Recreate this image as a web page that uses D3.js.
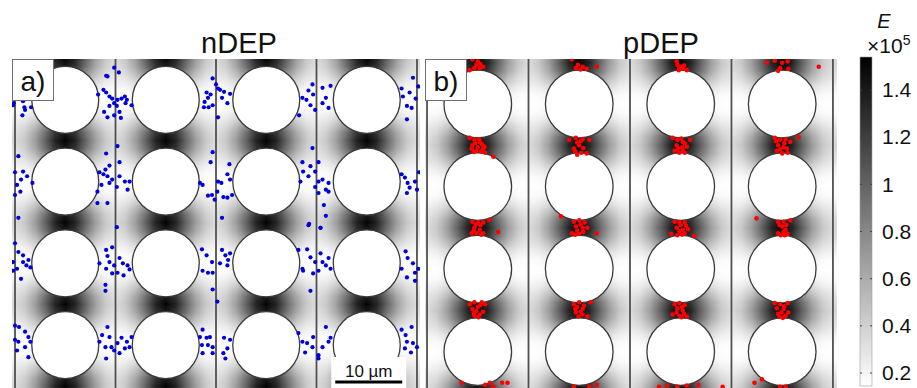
<!DOCTYPE html>
<html>
<head>
<meta charset="utf-8">
<script src="https://cdn.jsdelivr.net/npm/d3@7"></script>
<style>
  html, body { margin: 0; padding: 0; background: #fff; }
  svg { display: block; }
  text { font-family: "Liberation Sans", Arial, Helvetica, sans-serif; fill: #111; }
</style>
</head>
<body>
<svg id="chart" width="917" height="388"></svg>
<script>
// ---- Channel geometry (µm) ----
const channelWalls   = [0, 15, 30, 45, 60];
const pillarColumns  = [7.5, 22.5, 37.5, 52.5];
const pillarRadius   = 5;
const rowPitch       = 12.2;
const nDepRows       = [6.1, 18.3, 30.5, 42.7];
const pDepRows       = [6.65, 18.85, 31.05, 43.25];

// ---- Field magnitude E (×10^5) over one cell ----
// columns: distance from the pillar axis; rows: distance from the gap centre line
const fieldDx = [0, 1.5, 3, 4.5, 6, 7.5];
const fieldDy = [0, 1.2, 2.4, 3.6, 4.8, 6.1];
const fieldE = [
  [1.52, 1.35, 1.00, 0.68, 0.45, 0.34],
  [1.40, 1.25, 0.92, 0.62, 0.41, 0.31],
  [1.15, 1.00, 0.72, 0.48, 0.33, 0.27],
  [0.85, 0.72, 0.50, 0.33, 0.24, 0.21],
  [0.60, 0.48, 0.32, 0.22, 0.17, 0.16],
  [0.45, 0.35, 0.22, 0.16, 0.15, 0.145]
];

// ---- Colour bar ----
const colorDomain = [0.145, 1.54];
const colorTicks  = [0.2, 0.4, 0.6, 0.8, 1, 1.2, 1.4];

// ---- Labels ----
const panelTitles = ["nDEP", "pDEP"];
const panelTags   = ["a)", "b)"];
const scaleBarLength = 10;          // µm
const scaleBarStart  = [47.8, 48.2]; // µm, in panel a

// ---- nDEP particles: [wall index, pillar row, dx µm, dy µm offsets] ----
const nDepParticles = [
  [0, 0, [[-0.3,0.8],[-0.2,0.5],[1.2,0.2],[1.4,1.1],[1.1,2.3],[1.5,1.5],[2.4,1.1]]],
  [1, 0, [[-0.2,-4.8],[0.5,-4.1],[-1.4,-3.6],[-1.2,-3.5],[-1.8,-1.5],[-1.4,-1.1],[-2.6,-0.8],[-0.9,-0.5],[-0.5,-0.2],[0.3,0],[-0.2,0.5],[-0.9,0.9],[0.2,0.9],[0.9,-0.2],[1.4,-0.5],[1.7,0],[1.5,0.5],[2.4,0.8],[0.6,1.8],[-1.7,1.8],[-0.2,2.3],[-1.2,2.6],[0.8,2.7]]],
  [2, 0, [[-0.5,-3.2],[0,-2.3],[0.3,-1.7],[-1.4,-1.1],[-0.8,-0.8],[-1.2,-0.3],[-1.7,0.3],[-1.8,1.1],[-1.1,1.1],[-0.5,0.8],[0.6,-1.5],[1.2,-1.2],[2.1,-0.9],[0.9,-0.3],[1.7,0.5],[0.3,2.6]]],
  [3, 0, [[-0.6,-2.3],[-1.2,-1.4],[-0.5,-0.8],[-2.1,-0.3],[-1.5,0],[-0.9,0.8],[-0.2,1.5],[-2.6,2.3],[0.9,-1.8],[2.1,-2.1],[1.4,-0.3],[0.9,0.5],[1.8,1.2]]],
  [4, 0, [[-0.6,-3.3],[-2.3,-1.7],[-2.1,-0.5],[-1.1,-1.1],[-0.2,-0.2],[-1.5,0.9],[-0.8,1.2],[-1.5,2.9],[0.2,-2.0]]],
  [0, 1, [[0.5,-3.8],[0,-1.4],[1.2,-1.5],[0.9,-0.3],[1.8,-0.8],[2.6,0.2],[0.3,0.5],[0.8,1.5],[0,2.0],[0.5,5.4]]],
  [1, 1, [[-1.4,-4.2],[0.3,-5.3],[0.6,-2.9],[-0.9,-2.4],[-1.5,-1.8],[-2.4,-1.4],[-1.8,-1.1],[-1.2,-0.8],[-0.5,-0.3],[-2.1,0.5],[-2.7,1.5],[-0.9,0.2],[0.2,0.8],[0.6,-0.8],[1.4,0],[2.1,0],[1.8,1.2],[-2.7,3.2],[-1.2,3.2],[0.2,6.8]]],
  [2, 1, [[-0.5,-4.4],[-0.8,-2.9],[2.0,-2.6],[-2.4,0.2],[-2.0,0.5],[0.3,0],[0.8,0.2],[1.7,-1.1],[2.1,-0.3],[0.2,1.5],[-0.6,2.0],[1.1,2.3],[-1.2,2.1],[-0.2,2.7],[1.7,2.4],[2.4,2.0],[0.9,5.4]]],
  [3, 1, [[-0.6,-5.0],[-2.1,-2.9],[-0.9,-2.3],[0.3,-2.9],[-0.2,-1.5],[-2.0,-1.5],[-1.2,-0.8],[-2.4,0],[0.3,0],[0.9,-0.3],[1.8,0.2],[-0.2,0.8],[1.4,1.2],[0.3,1.7],[1.8,1.5],[1.1,3.5],[1.4,5.1],[0.6,6.9],[-1.2,6.5]]],
  [4, 1, [[-2.3,-1.1],[-1.8,-0.6],[-1.4,0.2],[-0.3,0],[-1.1,0.9],[0,1.2],[-1.5,1.7],[0.3,-1.4]]],
  [0, 2, [[0,-3.0],[0.5,-1.7],[1.2,-1.2],[-0.3,-0.2],[1.2,-0.2],[2.0,-0.5],[1.7,0.3],[2.3,0.6],[0.3,0.8],[-0.3,1.1],[0.9,2.3]]],
  [1, 2, [[-1.4,-2.0],[-0.5,-2.4],[-1.2,-1.1],[-2.4,0],[-0.9,-0.2],[-0.2,0.3],[-1.4,0.8],[0.3,1.4],[-0.5,1.5],[-1.5,3.2],[-1.5,4.1],[1.1,0],[1.8,0.3],[1.2,1.8],[2.1,0.9],[0.6,-0.8]]],
  [2, 2, [[-2.1,-2.1],[-1.4,-1.2],[-0.6,-0.2],[-2.0,1.1],[-1.2,1.4],[-0.5,1.4],[-0.5,3.9],[0.2,5.7],[0.6,0],[1.4,-1.2],[2.1,-1.5],[1.8,-0.5],[1.7,0.3],[0.9,-2.0]]],
  [3, 2, [[-2.7,-2.0],[-2.1,0.8],[-2.0,1.1],[-1.4,-2.1],[-0.9,-0.9],[-0.2,-0.2],[-0.5,1.5],[0.6,-1.5],[0.9,-0.2],[1.4,0.3],[1.8,-0.8],[2.1,0.8],[0.3,1.1],[-0.9,4.1],[-1.1,-5.9],[0.6,-5.3]]],
  [4, 2, [[-1.7,-1.8],[-1.4,-0.8],[-0.6,0],[-2.3,0.8],[-0.3,1.4],[-1.5,2.1],[0.2,0.8],[-0.3,2.6]]],
  [0, 3, [[0,-2.9],[0.6,-2.7],[1.5,-2.0],[0,-0.8],[0.5,-0.5],[2.0,-1.2],[2.3,-0.5],[0.3,0.8],[1.5,0.3],[2.0,1.8]]],
  [1, 3, [[-1.2,-2.7],[-2.0,-1.5],[-0.9,-1.2],[-2.4,-0.5],[-1.5,0.3],[-0.6,0.3],[-0.2,0.8],[-1.4,2.0],[0.3,-0.3],[0.9,-1.1],[1.7,-0.5],[1.4,0.5],[2.1,0.3],[0.6,1.2],[2.4,-1.2]]],
  [2, 3, [[-2.0,-2.3],[-2.4,-1.2],[-1.4,-1.1],[-0.9,-1.2],[-2.1,0],[-1.2,0],[-0.5,0.3],[-2.0,1.2],[-0.5,1.2],[1.2,-1.1],[2.1,-0.8],[1.7,0.5],[1.1,1.2],[1.4,2.0]]],
  [3, 3, [[-2.7,-1.8],[-2.1,-0.5],[-1.4,-0.3],[-0.6,0.3],[-1.7,1.1],[-0.5,-1.2],[0.3,1.5],[0.9,0.3],[1.4,-2.7],[2.1,-1.1],[1.8,-0.5],[0.3,2.0]]],
  [4, 3, [[-2.3,-2.3],[-1.7,-1.5],[-0.8,-2.7],[-1.5,-0.5],[-0.6,-0.3],[-1.8,0.5],[-0.9,1.1],[0,0.3]]]
];

// ---- pDEP particles: [pillar column, gap index (0 = above first row), dx µm, dy µm offsets] ----
const pDepParticles = [
  [0, 0, [[-0.8,-0.5],[0,-0.2],[-1.2,1.1],[-0.5,0.8],[0.3,0.8],[0.8,0.6],[-0.2,0.3],[0.4,0.2]]],
  [1, 0, [[-1.1,-0.5],[-0.2,0.3],[-0.5,0.8],[0.5,0.6],[1.1,0.9],[2.6,0.6],[0.2,1.0]]],
  [2, 0, [[-0.6,-0.2],[-0.5,0.3],[-0.2,0.8],[0.3,0.9],[0.9,1.1],[0,0.6],[0.5,0.4],[-0.3,1.1]]],
  [3, 0, [[-2.3,0],[-1.1,-0.3],[0,0],[0.8,-0.2],[-0.3,0.8],[0.9,0.9],[-0.6,1.2],[5.4,0.6]]],
  [0, 1, [[-1.2,-1.1],[-0.5,-0.8],[0.3,-0.5],[-0.8,0],[0,0.3],[0.8,0.5],[-0.9,0.5],[-0.2,0.8],[1.1,1.1],[2.3,1.7],[0.6,-0.2],[-0.4,-0.3],[0.2,-0.9],[0.5,0.9],[-0.6,1.0],[1.0,0.2]]],
  [1, 1, [[-1.5,-0.8],[-0.5,-1.1],[0.5,-0.9],[1.5,-0.8],[0,0],[-0.8,0.5],[0.3,1.1],[1.1,1.2],[-0.3,1.4],[-0.3,-0.4],[0.6,0.4],[0.2,-0.6],[-0.6,0.9]]],
  [2, 1, [[-1.2,-1.1],[-0.5,-0.8],[0.3,-0.5],[-0.6,0],[0.2,0.3],[0.9,0.2],[-0.9,0.8],[-0.2,1.1],[0.6,1.1],[1.4,-0.8],[0.1,-1.0],[0.6,-0.3],[-0.4,0.5],[0.3,0.7]]],
  [3, 1, [[-1.1,-1.1],[-0.3,-0.8],[0.5,-0.9],[1.2,-0.5],[2.4,-1.2],[-0.6,0],[0.2,0.3],[-0.8,0.8],[0.8,1.1],[0,1.2],[0.3,-0.3],[-0.3,0.6],[0.7,0.5],[-0.9,-0.6]]],
  [0, 2, [[-0.8,-0.9],[0,-0.8],[0.8,-0.8],[1.7,-1.2],[-0.5,0],[0.3,0.3],[-0.9,0.8],[-0.2,0.8],[0.8,0.8],[3.0,0.6],[0.4,-0.4],[-0.3,-0.5],[0.5,1.0],[-0.6,0.4]]],
  [1, 2, [[-2.7,-1.7],[-0.8,-0.9],[0,-1.1],[0.8,-0.8],[-0.5,-0.2],[0.5,0],[1.2,0],[-1.1,0.8],[0,0.9],[2.6,0.8],[0.2,-0.5],[-0.3,0.4],[0.6,0.6],[-0.6,1.0]]],
  [2, 2, [[-0.9,-0.9],[-0.2,-0.8],[0.6,-0.8],[-0.6,0],[0.3,0.3],[1.1,0.2],[-1.4,0.9],[-0.5,1.1],[0.6,0.8],[2.0,1.2],[0,-0.4],[-0.2,0.5],[0.8,-0.3],[0.2,1.0]]],
  [3, 2, [[-3.8,-1.4],[-0.6,-0.9],[0.2,-0.9],[1.2,-1.1],[0,-0.2],[0.5,0.3],[-0.6,0.8],[0.8,0.9],[0.2,0.6],[-0.4,-0.4],[0.6,-0.4],[-0.2,1.1],[0.4,1.1]]],
  [0, 3, [[-1.2,-0.9],[-0.5,-1.2],[0.6,-1.2],[1.1,-0.9],[-0.8,-0.2],[0,-0.5],[0.8,0.2],[-0.5,0.8],[0.3,0.6],[-0.2,0.1],[0.4,-0.8],[-0.6,0.4],[0.1,1.0]]],
  [1, 3, [[-0.8,-0.9],[0,-1.2],[1.7,-1.2],[-0.3,-0.5],[0.5,-0.2],[-0.5,0.3],[0.5,0.6],[1.2,0.9],[0.2,0.2],[-0.1,0.9],[0.7,-0.7],[-0.6,-0.2]]],
  [2, 3, [[-0.9,-0.9],[-0.2,-1.1],[0.6,-0.8],[-0.5,-0.3],[0.3,0],[-1.2,0.6],[-0.2,0.8],[0.9,0.9],[0.2,-0.5],[-0.6,0.3],[0.5,0.5],[0.1,1.0]]],
  [3, 3, [[-1.1,-1.1],[-0.3,-0.9],[0.8,-1.1],[-0.8,-0.3],[0.2,-0.2],[-0.6,0.5],[0.5,0.8],[0.9,0.3],[-0.1,0.3],[0.3,-0.6],[-0.4,0.9],[0.1,1.1]]],
  [0, 4, [[-2.4,-1.5],[1.1,-1.2],[1.8,-1.5],[2.3,-0.9],[3.6,-1.5],[4.4,-1.5]]],
  [1, 4, [[-0.8,-0.9],[1.5,-0.9],[2.6,-1.2]]],
  [2, 4, [[-3.2,-0.9],[-2.0,-1.1],[-0.5,-0.9],[0.9,-1.1],[2.6,-1.2],[6.2,-0.9]]],
  [3, 4, [[-4.1,-1.5],[-3.0,-2.0],[-0.3,-0.9],[0.5,-0.9]]]
];

// ---- Layout ----
const svg = d3.select("#chart");
const grayOf = d3.scaleLinear().domain(colorDomain).range([255, 0]).clamp(true);

const panels = [
  { rows: nDepRows, x: d3.scaleLinear().domain([-0.45, 60.45]).range([12, 420]),
    y: d3.scaleLinear().domain([0, 49.1]).range([59, 388]), color: "#0000dc", r: 2.1,
    particles: nDepParticles.flatMap(([w, row, pts]) =>
      pts.map(([dx, dy]) => [channelWalls[w] + dx, nDepRows[row] + dy])) },
  { rows: pDepRows, x: d3.scaleLinear().domain([-0.3, 60.6]).range([425, 837]),
    y: d3.scaleLinear().domain([0, 48.62]).range([59, 388]), color: "#ff0000", r: 2.3,
    particles: pDepParticles.flatMap(([c, g, pts]) =>
      pts.map(([dx, dy]) => [pillarColumns[c] + dx, pDepRows[0] - rowPitch / 2 + g * rowPitch + dy])) }
];

// bilinear lookup in the cell table
function fieldAt(dx, dy) {
  const i = Math.max(0, Math.min(fieldDx.length - 2, d3.bisectRight(fieldDx, dx) - 1));
  const j = Math.max(0, Math.min(fieldDy.length - 2, d3.bisectRight(fieldDy, dy) - 1));
  const tx = Math.max(0, Math.min(1, (dx - fieldDx[i]) / (fieldDx[i + 1] - fieldDx[i])));
  const ty = Math.max(0, Math.min(1, (dy - fieldDy[j]) / (fieldDy[j + 1] - fieldDy[j])));
  const top = fieldE[j][i] * (1 - tx) + fieldE[j][i + 1] * tx;
  const bot = fieldE[j + 1][i] * (1 - tx) + fieldE[j + 1][i + 1] * tx;
  return top * (1 - ty) + bot * ty;
}
function fold(v, period) {
  const m = ((v % period) + period) % period;
  return Math.min(m, period - m);
}

const defs = svg.append("defs");

panels.forEach((p, k) => {
  const [x0, x1] = p.x.range(), [y0, y1] = p.y.range();
  const W = Math.round(x1 - x0), H = Math.round(y1 - y0);
  const gapOrigin = p.rows[0] - rowPitch / 2;

  // field image
  const canvas = document.createElement("canvas");
  canvas.width = W; canvas.height = H;
  const ctx = canvas.getContext("2d");
  const img = ctx.createImageData(W, H);
  for (let j = 0; j < H; j++) {
    const ym = p.y.invert(y0 + j + 0.5);
    const dy = fold(ym - gapOrigin, rowPitch);
    for (let i = 0; i < W; i++) {
      const xm = p.x.invert(x0 + i + 0.5);
      const dx = fold(xm - pillarColumns[0], 15);
      const g = Math.round(grayOf(fieldAt(dx, dy)));
      const o = (j * W + i) * 4;
      img.data[o] = g; img.data[o + 1] = g; img.data[o + 2] = g; img.data[o + 3] = 255;
    }
  }
  ctx.putImageData(img, 0, 0);

  const clipId = "clip" + k;
  defs.append("clipPath").attr("id", clipId)
    .append("rect").attr("x", x0).attr("y", y0).attr("width", W).attr("height", H);

  const g = svg.append("g").attr("clip-path", `url(#${clipId})`);
  g.append("image").attr("href", canvas.toDataURL())
    .attr("x", x0).attr("y", y0).attr("width", W).attr("height", H)
    .attr("preserveAspectRatio", "none");

  g.selectAll("line.wall").data(channelWalls).join("line")
    .attr("class", "wall")
    .attr("x1", d => p.x(d)).attr("x2", d => p.x(d))
    .attr("y1", y0).attr("y2", y1)
    .attr("stroke", "#505050").attr("stroke-width", 1.8);

  const pillars = p.rows.flatMap(r => pillarColumns.map(c => [c, r]));
  const pxPerUm = p.x(1) - p.x(0);
  g.selectAll("circle.pillar").data(pillars).join("circle")
    .attr("class", "pillar")
    .attr("cx", d => p.x(d[0])).attr("cy", d => p.y(d[1]))
    .attr("r", pillarRadius * pxPerUm)
    .attr("fill", "#fff").attr("stroke", "#3a3a3a").attr("stroke-width", 1.3);

  g.selectAll("circle.particle").data(p.particles).join("circle")
    .attr("class", "particle")
    .attr("cx", d => p.x(d[0])).attr("cy", d => p.y(d[1]))
    .attr("r", p.r).attr("fill", p.color);

  // panel tag
  svg.append("rect").attr("x", x0 + 0.5).attr("y", y0 + 0.5).attr("width", 41).attr("height", 41)
    .attr("fill", "#fff").attr("stroke", "#707070").attr("stroke-width", 1);
  svg.append("text").attr("x", x0 + 21).attr("y", y0 + 32)
    .attr("text-anchor", "middle").attr("font-size", 28).text(panelTags[k]);

  // title
  svg.append("text").attr("x", (x0 + x1) / 2 + (k === 0 ? 23 : 30)).attr("y", 53)
    .attr("text-anchor", "middle").attr("font-size", 29).text(panelTitles[k]);
});

// scale bar in panel a
{
  const p = panels[0];
  const bx0 = p.x(scaleBarStart[0]), bx1 = p.x(scaleBarStart[0] + scaleBarLength);
  const by = p.y(scaleBarStart[1]);
  svg.append("rect").attr("x", bx0 - 4).attr("y", by - 25).attr("width", bx1 - bx0 + 8).attr("height", 388 - (by - 25))
    .attr("fill", "#fff");
  svg.append("text").attr("x", (bx0 + bx1) / 2).attr("y", by - 5)
    .attr("text-anchor", "middle").attr("font-size", 17).text(scaleBarLength + " µm");
  svg.append("line").attr("x1", bx0).attr("x2", bx1).attr("y1", by).attr("y2", by)
    .attr("stroke", "#000").attr("stroke-width", 3);
}

// colour bar
{
  const cbX = 860, cbW = 12;
  const cy = d3.scaleLinear().domain(colorDomain).range([386, 57]);
  const grad = defs.append("linearGradient").attr("id", "cbGrad")
    .attr("x1", 0).attr("y1", 1).attr("x2", 0).attr("y2", 0);
  grad.append("stop").attr("offset", 0).attr("stop-color", d3.rgb(grayOf(colorDomain[0]), grayOf(colorDomain[0]), grayOf(colorDomain[0])));
  grad.append("stop").attr("offset", 1).attr("stop-color", d3.rgb(grayOf(colorDomain[1]), grayOf(colorDomain[1]), grayOf(colorDomain[1])));
  svg.append("rect").attr("x", cbX).attr("y", cy(colorDomain[1])).attr("width", cbW)
    .attr("height", cy(colorDomain[0]) - cy(colorDomain[1]))
    .attr("fill", "url(#cbGrad)").attr("stroke", "#9a9a9a").attr("stroke-width", 0.6);

  const tickG = svg.append("g");
  tickG.selectAll("line.l").data(colorTicks).join("line").attr("class", "l")
    .attr("x1", cbX).attr("x2", cbX + 2).attr("y1", d => cy(d)).attr("y2", d => cy(d))
    .attr("stroke", "#444").attr("stroke-width", 1);
  tickG.selectAll("line.r").data(colorTicks).join("line").attr("class", "r")
    .attr("x1", cbX + cbW - 2).attr("x2", cbX + cbW).attr("y1", d => cy(d)).attr("y2", d => cy(d))
    .attr("stroke", "#444").attr("stroke-width", 1);

  const axis = d3.axisRight(cy).tickValues(colorTicks).tickSize(0).tickPadding(10)
    .tickFormat(d3.format("~g"));
  const ax = svg.append("g").attr("transform", `translate(${cbX + cbW},0)`).call(axis);
  ax.select(".domain").remove();
  ax.selectAll("text").attr("font-size", 21).attr("fill", "#111")
    .attr("font-family", '"Liberation Sans", Arial, sans-serif');

  svg.append("text").attr("x", 884).attr("y", 28).attr("text-anchor", "middle")
    .attr("font-family", '"Liberation Serif", "DejaVu Serif", serif')
    .attr("font-style", "italic").attr("font-size", 20).text("E");
  const exp = svg.append("text").attr("x", 867).attr("y", 53).attr("font-size", 21);
  exp.append("tspan").text("×10");
  exp.append("tspan").attr("dy", -8).attr("font-size", 14).text("5");
}
</script>
</body>
</html>
